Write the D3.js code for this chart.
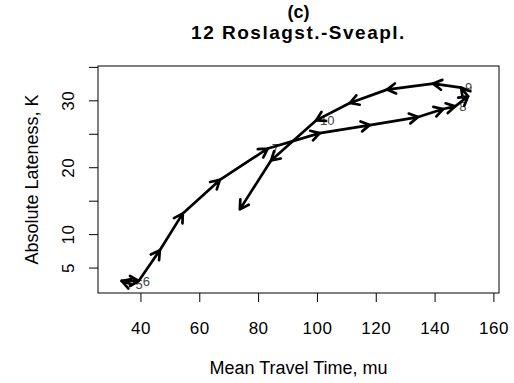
<!DOCTYPE html>
<html>
<head>
<meta charset="utf-8">
<script src="https://cdn.jsdelivr.net/npm/d3@7"></script>
<style>
  body { margin: 0; background: #fff; }
  svg { font-family: "Liberation Sans", Arial, sans-serif; }
</style>
</head>
<body>
<div id="chart"></div>
<script>
// trajectory points (mean travel time vs absolute lateness), in time order
var travelTime = [37.0, 33.6, 39.4, 46.6, 54.4, 67.0, 83.3, 101.0, 118.0, 134.4,
                  142.9, 147.0, 151.4, 149.0, 139.5, 123.8, 111.2, 99.7, 84.4, 73.8];
var lateness = [2.5, 3.0, 3.0, 7.6, 13.1, 18.1, 22.8, 25.1, 26.3, 27.5,
                28.7, 29.1, 30.6, 31.9, 32.5, 31.6, 29.6, 27.0, 21.0, 13.7];
// hour labels attached to some points
var hourLabels = ["5", "", "6", "", "", "", "7", "", "", "",
                  "", "8", "", "9", "", "", "", "10", "", ""];

var xTicks = [40, 60, 80, 100, 120, 140, 160];
var yTicks = [5, 10, 15, 20, 25, 30, 35];
var yTickLabels = ["5", "10", "", "20", "", "30", ""];

var xLimits = [25.57, 161.9];
var yLimits = [1.2, 35.13];

var svgWidth = 514;
var svgHeight = 383;

var margin = {
  top: 66,
  right: 15,
  bottom: 90,
  left: 98
};

var width = svgWidth - margin.left - margin.right;
var height = svgHeight - margin.top - margin.bottom;

var svg = d3
  .select("#chart")
  .append("svg")
  .attr("width", svgWidth)
  .attr("height", svgHeight);

var chartGroup = svg.append("g")
  .attr("transform", `translate(${margin.left}, ${margin.top})`);

var xLinearScale = d3.scaleLinear().domain(xLimits).range([0, width]);
var yLinearScale = d3.scaleLinear().domain(yLimits).range([height, 0]);

var data = travelTime.map((d, i) => ({ x: d, y: lateness[i], label: hourLabels[i] }));

// titles
svg.append("text")
  .attr("x", margin.left + width / 2)
  .attr("y", 18)
  .attr("text-anchor", "middle")
  .attr("font-weight", "bold")
  .attr("font-size", 18)
  .text("(c)");
svg.append("text")
  .attr("x", margin.left + width / 2)
  .attr("y", 39)
  .attr("text-anchor", "middle")
  .attr("font-weight", "bold")
  .attr("font-size", 19)
  .attr("letter-spacing", 1.5)
  .text("12 Roslagst.-Sveapl.");

// x axis
var bottomAxis = d3.axisBottom(xLinearScale)
  .tickValues(xTicks)
  .tickSize(9)
  .tickFormat(d3.format("d"));
var xAxis = chartGroup.append("g")
  .attr("transform", `translate(0, ${height})`)
  .call(bottomAxis);
xAxis.select(".domain").remove();
xAxis.selectAll("text")
  .attr("y", 41)
  .attr("dy", null)
  .attr("fill", "#000")
  .attr("font-size", 17)
  .attr("letter-spacing", 0.5)
  .attr("font-family", null);

// y axis, labels parallel to the axis
var leftAxis = d3.axisLeft(yLinearScale)
  .tickValues(yTicks)
  .tickSize(9)
  .tickFormat((d, i) => yTickLabels[i]);
var yAxis = chartGroup.append("g")
  .call(leftAxis);
yAxis.select(".domain").remove();
yAxis.selectAll("text")
  .attr("x", null)
  .attr("dy", null)
  .attr("text-anchor", "middle")
  .attr("transform", "translate(-24,0) rotate(-90)")
  .attr("fill", "#000")
  .attr("font-size", 17)
  .attr("letter-spacing", 0.5)
  .attr("font-family", null);

// plot box
chartGroup.append("rect")
  .attr("width", width)
  .attr("height", height)
  .attr("fill", "none")
  .attr("stroke", "#000")
  .attr("stroke-width", 1);

// axis titles
svg.append("text")
  .attr("x", margin.left + width / 2)
  .attr("y", 374)
  .attr("text-anchor", "middle")
  .attr("font-size", 18)
  .text("Mean Travel Time, mu");
svg.append("text")
  .attr("transform", `translate(38, ${margin.top + height / 2}) rotate(-90)`)
  .attr("text-anchor", "middle")
  .attr("font-size", 18)
  .text("Absolute Lateness, K");

// hour labels
chartGroup.selectAll(".hourText")
  .data(data.filter(d => d.label !== ""))
  .enter()
  .append("text")
  .attr("class", "hourText")
  .attr("x", d => xLinearScale(d.x) + 4)
  .attr("y", d => yLinearScale(d.y))
  .attr("dy", "0.35em")
  .attr("font-size", 13)
  .attr("fill", "#444")
  .text(d => d.label);

// segments with arrowheads at the end of each one
var segments = d3.pairs(data);
var arrowLen = 10;
var arrowAngle = Math.PI / 6;

var arrowGroup = chartGroup.append("g")
  .attr("stroke", "#000")
  .attr("stroke-width", 2.7)
  .attr("stroke-linecap", "round")
  .attr("stroke-linejoin", "round")
  .attr("fill", "none");

arrowGroup.selectAll("path")
  .data(segments)
  .enter()
  .append("path")
  .attr("d", function(s) {
    var x0 = xLinearScale(s[0].x), y0 = yLinearScale(s[0].y);
    var x1 = xLinearScale(s[1].x), y1 = yLinearScale(s[1].y);
    var a = Math.atan2(y1 - y0, x1 - x0);
    var p = d3.path();
    p.moveTo(x0, y0);
    p.lineTo(x1, y1);
    p.moveTo(x1 - arrowLen * Math.cos(a - arrowAngle), y1 - arrowLen * Math.sin(a - arrowAngle));
    p.lineTo(x1, y1);
    p.lineTo(x1 - arrowLen * Math.cos(a + arrowAngle), y1 - arrowLen * Math.sin(a + arrowAngle));
    return p.toString();
  });
</script>
</body>
</html>
